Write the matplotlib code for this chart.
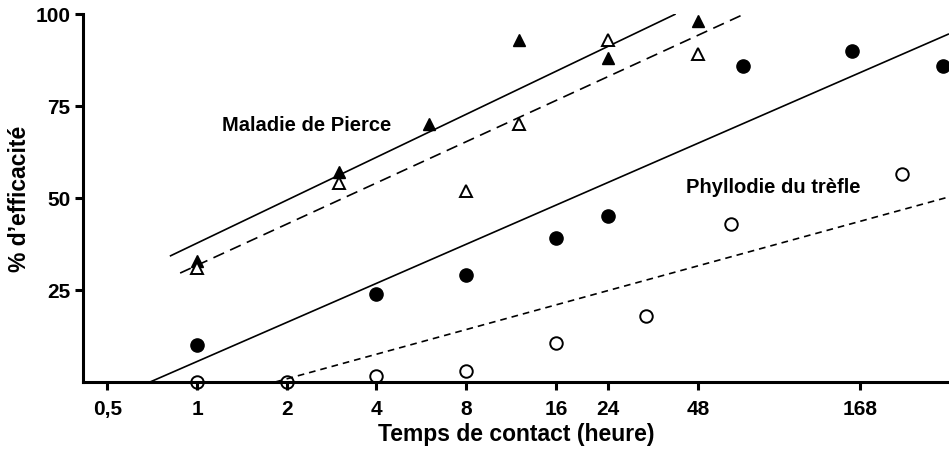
import matplotlib.pyplot as plt
from matplotlib.ticker import FixedLocator, FixedFormatter, NullLocator

plt.rcParams['font.family'] = ['Liberation Sans', 'DejaVu Sans']
plt.rcParams['font.weight'] = 'bold'

# Maladie de Pierce - filled triangles
pierce_a_x = [1, 3, 6, 12, 24, 48]
pierce_a_y = [33, 57, 70, 93, 88, 98]
# Maladie de Pierce - open triangles
pierce_b_x = [1, 3, 8, 12, 24, 48]
pierce_b_y = [31, 54, 52, 70, 93, 89]
# Phyllodie du trefle - filled circles
phyl_a_x = [1, 4, 8, 16, 24, 68, 158, 318]
phyl_a_y = [10, 24, 29, 39, 45, 86, 90, 86]
# Phyllodie du trefle - open circles
phyl_b_x = [1, 2, 4, 8, 16, 32, 62, 232]
phyl_b_y = [0, 0, 1.5, 3, 10.5, 18, 43, 56.5]

# fitted lines (x start, x end), (y start, y end)
fit_pierce_a = ([0.81, 40.4], [34.2, 100])
fit_pierce_b = ([0.877, 67.4], [29.6, 99.7])
fit_phyl_a = ([0.695, 334], [0, 94.6])
fit_phyl_b = ([1.83, 334], [0, 50.3])

xticks = [0.5, 1, 2, 4, 8, 16, 24, 48, 168]
xtick_labels = ['0,5', '1', '2', '4', '8', '16', '24', '48', '168']
yticks = [25, 50, 75, 100]

fig = plt.figure(figsize=(9.49, 4.52), dpi=100)
ax = fig.add_axes([83 / 949, 1 - 383 / 452, 1 - 83 / 949, (383 - 15) / 452])

ax.plot(*fit_pierce_a, color='black', lw=1.2, solid_capstyle='butt')
ax.plot(*fit_pierce_b, color='black', lw=1.2, dashes=(7, 4))
ax.plot(*fit_phyl_a, color='black', lw=1.2, solid_capstyle='butt')
ax.plot(*fit_phyl_b, color='black', lw=1.2, dashes=(4, 3))

ax.plot(pierce_a_x, pierce_a_y, '^', color='black', ms=9, ls='none', clip_on=False)
ax.plot(pierce_b_x, pierce_b_y, '^', mfc='white', mec='black', mew=1.4, ms=8, ls='none', clip_on=False)
ax.plot(phyl_a_x, phyl_a_y, 'o', color='black', ms=9.5, ls='none', clip_on=False)
ax.plot(phyl_b_x, phyl_b_y, 'o', mfc='white', mec='black', mew=1.4, ms=9, ls='none', clip_on=False, zorder=1)

ax.set_xscale('log', base=2)
ax.set_xlim(0.414, 334)
ax.set_ylim(0, 100)

ax.xaxis.set_major_locator(FixedLocator(xticks))
ax.xaxis.set_major_formatter(FixedFormatter(xtick_labels))
ax.xaxis.set_minor_locator(NullLocator())
ax.set_yticks(yticks)

for side in ['top', 'right']:
    ax.spines[side].set_visible(False)
for side in ['left', 'bottom']:
    ax.spines[side].set_linewidth(2.2)

ax.tick_params(axis='both', width=2.2, length=6, labelsize=15)
ax.tick_params(axis='x', pad=6)
ax.tick_params(axis='y', pad=3)

ax.text(1.21, 70, 'Maladie de Pierce', fontsize=14.5, fontweight='bold', va='center')
ax.text(43.6, 53, 'Phyllodie du trèfle', fontsize=14.5, fontweight='bold', va='center')

ax.set_xlabel('Temps de contact (heure)', fontsize=16.5, fontweight='bold', labelpad=3)
ax.set_ylabel('% d’efficacité', fontsize=16.5, fontweight='bold', labelpad=3)

fig.savefig('out.png', dpi=100)
